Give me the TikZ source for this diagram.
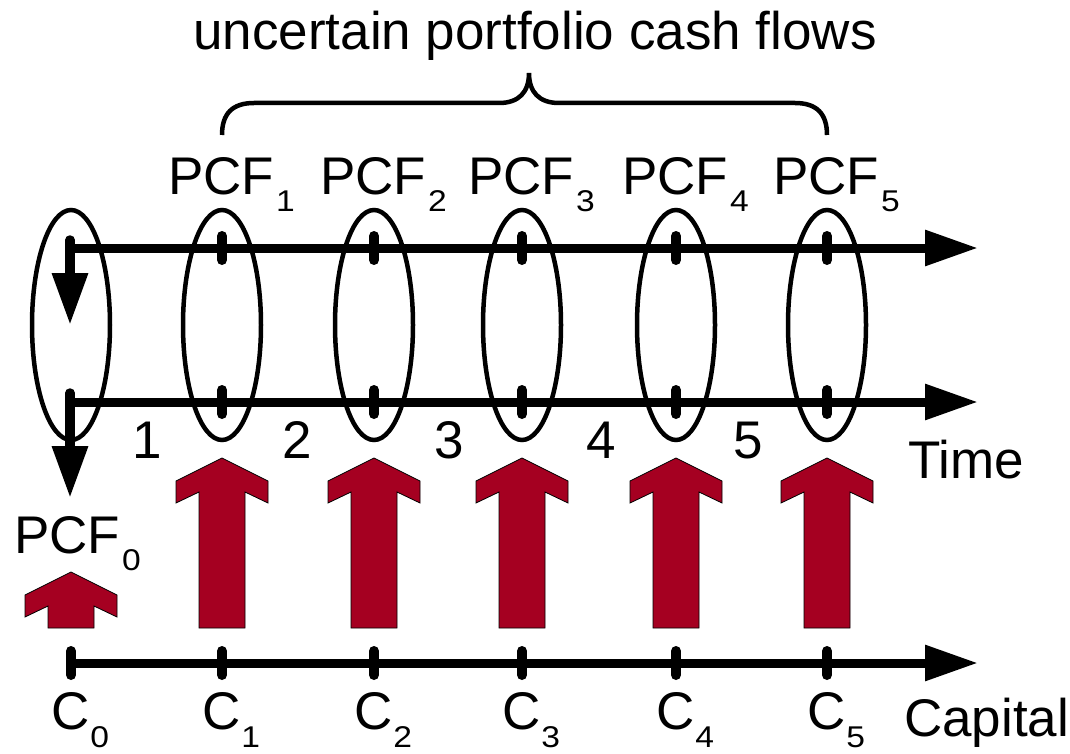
\documentclass[tikz,border=0pt]{standalone}
\usepackage{fontspec}
\setmainfont{Liberation Sans}
\usetikzlibrary{arrows.meta}
\definecolor{cfred}{HTML}{A50021}
\newcommand\bigfont{\fontsize{53}{60}\selectfont}
\newcommand\subfont{\fontsize{30}{32}\selectfont}
\newcommand\lowsub[1]{\kern2pt\raisebox{-17pt}{\scalebox{1.12}[1]{\subfont #1}}}
\newcommand\lowsubc[1]{\kern1pt\raisebox{-18pt}{\scalebox{1.12}[1]{\subfont #1}}}
\begin{document}
\begin{tikzpicture}[x=1pt,y=-1pt,
  axis/.style={line width=9pt,-{Triangle[length=53pt,width=34pt]}},
  downarrow/.style={line width=9.5pt,line cap=round,-{Triangle[length=52pt,width=34pt]}},
  tickmark/.style={line width=10pt,line cap=round},
  ell/.style={line width=4.5pt},
  lbl/.style={inner sep=0pt,font=\bigfont},
  cash/.style={fill=cfred,draw=black,line width=0.8pt,line join=miter},
  bracepath/.style={line width=4.5pt}]
\useasboundingbox (0,0) rectangle (1070,754);

% axes
\coordinate (t0) at (66,248);  \coordinate (t1) at (978,248);
\coordinate (m0) at (66,402);  \coordinate (m1) at (978,402);
\coordinate (b0) at (71,663);  \coordinate (b1) at (978,663);
\draw[axis] (t0) -- (t1);
\draw[axis] (m0) -- (m1);
\draw[axis] (b0) -- (b1);

% left vertical arrows
\coordinate (v1s) at (70,240); \coordinate (v1e) at (70,325);
\coordinate (v2s) at (70,393); \coordinate (v2e) at (70,498);
\draw[downarrow] (v1s) -- (v1e);
\draw[downarrow] (v2s) -- (v2e);

% ellipses
\draw[ell] (71,325) ellipse [x radius=39, y radius=115];
\foreach \x in {222,374,522,676,827}{
  \draw[ell] (\x,325) ellipse [x radius=39, y radius=115];
  \draw[tickmark] (\x,236) -- (\x,260);
  \draw[tickmark] (\x,390) -- (\x,414);
}
\foreach \x in {71,222,374,522,676,827}{
  \draw[tickmark] (\x,651) -- (\x,675);
}

% brace
\draw[bracepath] (222,135) .. controls (222,114) and (232,103) .. (254,103)
  -- (499,103) .. controls (519,103) and (529,92) .. (529,73)
  .. controls (529,92) and (539,103) .. (559,103)
  -- (795,103) .. controls (817,103) and (827,114) .. (827,135);

% red cash arrows
\foreach \x in {222,374,522,676,827}{
  \draw[cash,shift={(\x,458)}] (0,0) -- (-46,23) -- (-46,45) -- (-23,34) -- (-23,170)
     -- (23,170) -- (23,34) -- (46,45) -- (46,23) -- cycle;
}
\draw[cash,shift={(71,572)}] (0,0) -- (-46,23) -- (-46,45) -- (-23,34) -- (-23,56)
     -- (23,56) -- (23,34) -- (46,45) -- (46,23) -- cycle;

% labels
\node[lbl,anchor=base] (title) at (535,50) {uncertain portfolio cash flows};
\node[lbl,anchor=base west] (pcf1) at (168,195) {PCF\lowsub{1}};
\node[lbl,anchor=base west] (pcf2) at (320,195) {PCF\lowsub{2}};
\node[lbl,anchor=base west] (pcf3) at (468,195) {PCF\lowsub{3}};
\node[lbl,anchor=base west] (pcf4) at (622,195) {PCF\lowsub{4}};
\node[lbl,anchor=base west] (pcf5) at (773,195) {PCF\lowsub{5}};
\node[lbl,anchor=base west] (pcf0) at (14,553) {PCF\lowsub{0}};
\node[lbl,anchor=base] (n1) at (147,458) {1};
\node[lbl,anchor=base] (n2) at (297,458) {2};
\node[lbl,anchor=base] (n3) at (449,458) {3};
\node[lbl,anchor=base] (n4) at (601,458) {4};
\node[lbl,anchor=base] (n5) at (748,458) {5};
\node[lbl,anchor=base west] (time) at (908,478) {Time};
\node[lbl,anchor=base west] (capital) at (904,736) {Capital};
\node[lbl,anchor=base west] (c0) at (51,729) {C\lowsubc{0}};
\node[lbl,anchor=base west] (c1) at (202,729) {C\lowsubc{1}};
\node[lbl,anchor=base west] (c2) at (354,729) {C\lowsubc{2}};
\node[lbl,anchor=base west] (c3) at (502,729) {C\lowsubc{3}};
\node[lbl,anchor=base west] (c4) at (656,729) {C\lowsubc{4}};
\node[lbl,anchor=base west] (c5) at (807,729) {C\lowsubc{5}};
\end{tikzpicture}
\end{document}
